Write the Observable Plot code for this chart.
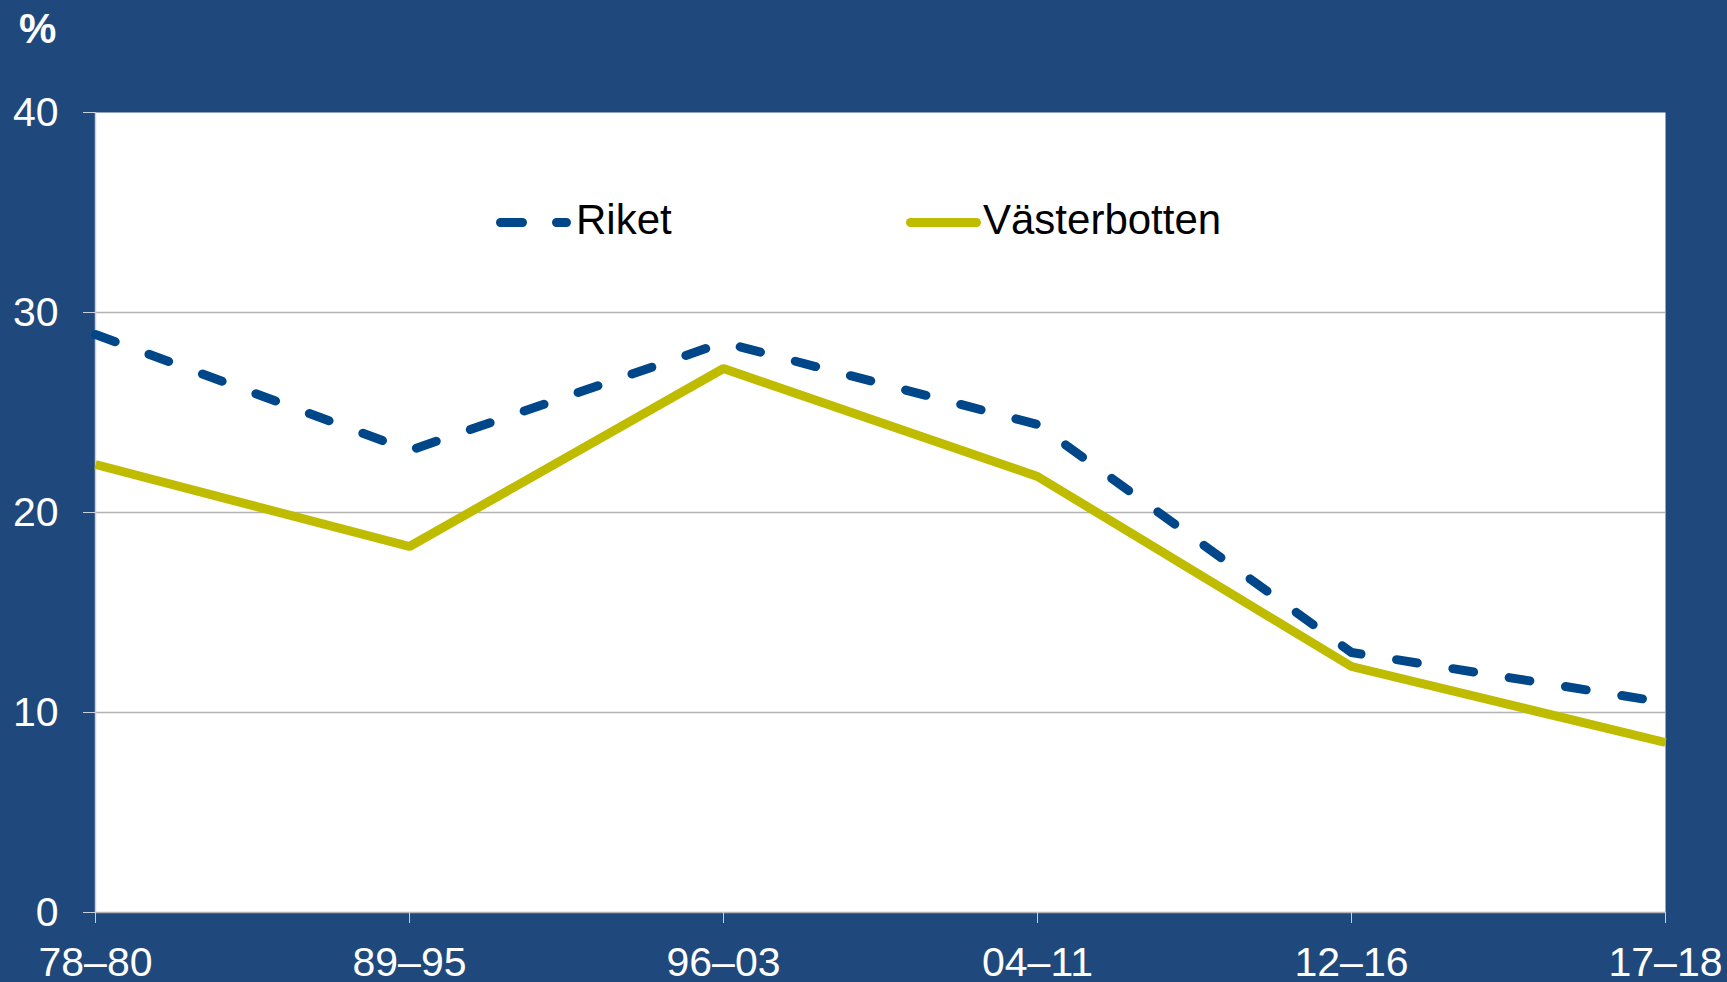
<!DOCTYPE html>
<html>
<head>
<meta charset="utf-8">
<script src="https://cdn.jsdelivr.net/npm/d3@7"></script>
<script src="https://cdn.jsdelivr.net/npm/@observablehq/plot@0.6"></script>
<style>
  html, body { margin: 0; padding: 0; background: #1f497d; }
  #wrap { position: relative; width: 1727px; height: 982px; overflow: hidden; font-family: "Liberation Sans", Arial, sans-serif; }
  #unit { position: absolute; left: 19px; top: 8px; color: #fff; font-weight: bold; font-size: 42px; line-height: 1; }
  #legend { position: absolute; left: 0; top: 0; pointer-events: none; }
</style>
</head>
<body>
<div id="wrap">
  <div id="chart"></div>
  <div id="unit">%</div>
</div>
<script>
const categories = ["78–80", "89–95", "96–03", "04–11", "12–16", "17–18"];
const riket = [28.9, 23.1, 28.5, 24.4, 13.0, 10.5];
const vasterbotten = [22.4, 18.3, 27.2, 21.8, 12.3, 8.5];
const yTicks = [0, 10, 20, 30, 40];
const gridTicks = [10, 20, 30];
const seriesNames = ["Riket", "Västerbotten"];

const colorRiket = "#00478a";
const colorVb = "#bfbc00";

const dataRiket = categories.map((c, i) => ({cat: c, value: riket[i]}));
const dataVb = categories.map((c, i) => ({cat: c, value: vasterbotten[i]}));

const chart = Plot.plot({
  width: 1727,
  height: 982,
  marginLeft: 95,
  marginRight: 62,
  marginTop: 112,
  marginBottom: 70,
  style: {background: "transparent", fontFamily: "'Liberation Sans', Arial, sans-serif", fontSize: "41px", color: "#fff"},
  x: {type: "point", domain: categories, padding: 0},
  y: {domain: [0, 40]},
  marks: [
    Plot.frame({fill: "#ffffff", stroke: null}),
    Plot.gridY(gridTicks, {stroke: "#b3b3b3", strokeOpacity: 1, strokeWidth: 1.3}),
    Plot.ruleY([0], {stroke: "#b3b3b3", strokeWidth: 1.3}),
    Plot.ruleX([categories[0]], {stroke: "#c9d0dd", strokeWidth: 1.5}),
    Plot.axisY(yTicks, {tickSize: 12, tickPadding: 25, stroke: "#c9d0dd", fill: "#ffffff", fontSize: 41, label: null}),
    Plot.axisX(categories, {tickSize: 11, tickPadding: 23, stroke: "#c9d0dd", fill: "#ffffff", fontSize: 41, label: null}),
    Plot.line(dataVb, {x: "cat", y: "value", stroke: colorVb, strokeWidth: 9, strokeLinejoin: "miter", strokeLinecap: "butt"}),
    Plot.line(dataRiket, {x: "cat", y: "value", stroke: colorRiket, strokeWidth: 9, strokeDasharray: "21 36", strokeLinecap: "round"})
  ]
});
document.getElementById("chart").appendChild(chart);

// Legend overlay
const lg = d3.select("#wrap").append("svg")
  .attr("id", "legend").attr("width", 1727).attr("height", 982);
const items = [
  {name: seriesNames[0], color: colorRiket, dash: "22 34", x1: 500.5, x2: 566.5, tx: 576},
  {name: seriesNames[1], color: colorVb, dash: null, x1: 910.5, x2: 976.5, tx: 983}
];
items.forEach(it => {
  lg.append("line").attr("x1", it.x1).attr("x2", it.x2).attr("y1", 222.5).attr("y2", 222.5)
    .attr("stroke", it.color).attr("stroke-width", 9).attr("stroke-linecap", "round")
    .attr("stroke-dasharray", it.dash);
  lg.append("text").attr("x", it.tx).attr("y", 234)
    .attr("font-family", "'Liberation Sans', Arial, sans-serif").attr("font-size", 42)
    .attr("fill", "#000").text(it.name);
});
</script>
</body>
</html>
